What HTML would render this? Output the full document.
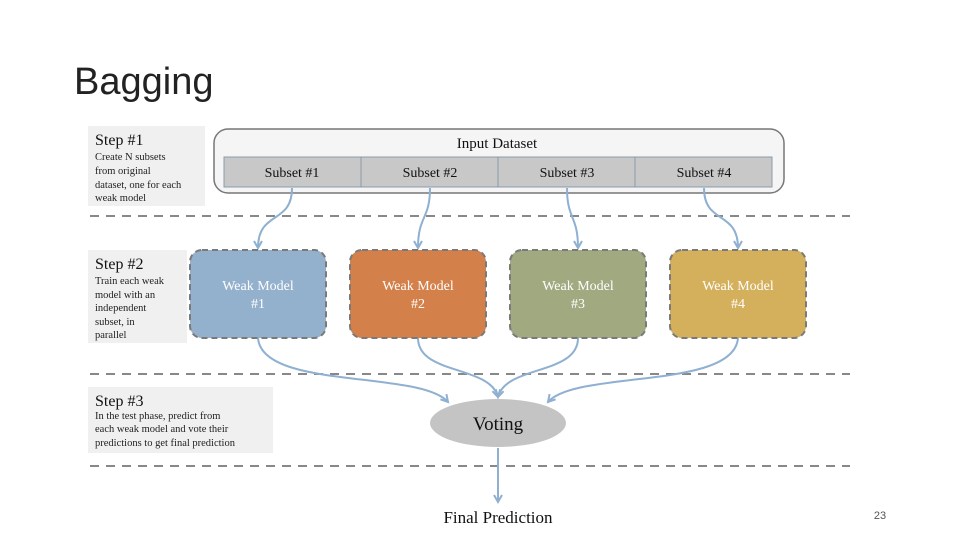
<!DOCTYPE html>
<html><head><meta charset="utf-8"><style>
html,body{margin:0;padding:0;background:#fff;}
svg{display:block;}
.s{font-family:"Liberation Serif",serif;}
</style></head><body>
<svg width="960" height="540" viewBox="0 0 960 540" xmlns="http://www.w3.org/2000/svg">
<defs>
<marker id="a" markerWidth="10" markerHeight="10" refX="8" refY="5" orient="auto" markerUnits="userSpaceOnUse">
<path d="M1,1 L8,5 L1,9" fill="none" stroke="#8fb0d0" stroke-width="2"/>
</marker>
</defs>
<text x="74" y="94" font-family="Liberation Sans,sans-serif" font-size="38" fill="#222">Bagging</text>

<!-- step boxes -->
<rect x="88" y="126" width="117" height="80" fill="#f0f0f0"/>
<text class="s" x="95" y="145" font-size="16" fill="#111">Step #1</text>
<text class="s" font-size="10.5" fill="#222"><tspan x="95" y="160">Create N subsets</tspan><tspan x="95" y="174">from original</tspan><tspan x="95" y="188">dataset, one for each</tspan><tspan x="95" y="201">weak model</tspan></text>

<rect x="88" y="250" width="99" height="93" fill="#f0f0f0"/>
<text class="s" x="95" y="269" font-size="16" fill="#111">Step #2</text>
<text class="s" font-size="10.5" fill="#222"><tspan x="95" y="284">Train each weak</tspan><tspan x="95" y="298">model with an</tspan><tspan x="95" y="311">independent</tspan><tspan x="95" y="325">subset, in</tspan><tspan x="95" y="338">parallel</tspan></text>

<rect x="88" y="387" width="185" height="66" fill="#f0f0f0"/>
<text class="s" x="95" y="406" font-size="16" fill="#111">Step #3</text>
<text class="s" font-size="10.5" fill="#222"><tspan x="95" y="419">In the test phase, predict from</tspan><tspan x="95" y="432">each weak model and vote their</tspan><tspan x="95" y="446">predictions to get final prediction</tspan></text>

<!-- input dataset -->
<rect x="214" y="129" width="570" height="64" rx="14" fill="#f5f5f5" stroke="#777" stroke-width="1.5"/>
<text class="s" x="497" y="148" font-size="15" text-anchor="middle" fill="#111">Input Dataset</text>
<rect x="224" y="157" width="548" height="30" fill="#c8c8c8" stroke="#8a9aaa" stroke-width="1"/>
<line x1="361" y1="157" x2="361" y2="187" stroke="#8a9aaa"/>
<line x1="498" y1="157" x2="498" y2="187" stroke="#8a9aaa"/>
<line x1="635" y1="157" x2="635" y2="187" stroke="#8a9aaa"/>
<g class="s" font-size="14" text-anchor="middle" fill="#111">
<text x="292" y="177">Subset #1</text><text x="430" y="177">Subset #2</text><text x="567" y="177">Subset #3</text><text x="704" y="177">Subset #4</text>
</g>

<!-- dashed separators -->
<g stroke="#888" stroke-width="2" stroke-dasharray="9,7">
<line x1="90" y1="216" x2="850" y2="216"/>
<line x1="90" y1="374" x2="850" y2="374"/>
<line x1="90" y1="466" x2="850" y2="466"/>
</g>

<!-- arrows subsets -> models -->
<g fill="none" stroke="#8fb0d0" stroke-width="2" marker-end="url(#a)">
<path d="M292,188 C292,225 258,210 258,248"/>
<path d="M430,188 C430,220 418,215 418,248"/>
<path d="M567,188 C567,220 578,215 578,248"/>
<path d="M704,188 C704,225 738,210 738,248"/>
<path d="M258,338 C262,390 420,370 448,402"/>
<path d="M418,338 C418,375 490,365 498,397"/>
<path d="M578,338 C578,375 506,365 498,397"/>
<path d="M738,338 C734,390 576,370 548,402"/>
<path d="M498,448 L498,502"/>
</g>

<!-- weak models -->
<g stroke="#7a7a7a" stroke-width="2" stroke-dasharray="6,4">
<rect x="190" y="250" width="136" height="88" rx="12" fill="#93b0cc"/>
<rect x="350" y="250" width="136" height="88" rx="12" fill="#d4804a"/>
<rect x="510" y="250" width="136" height="88" rx="12" fill="#a0a97f"/>
<rect x="670" y="250" width="136" height="88" rx="12" fill="#d4b05c"/>
</g>
<g class="s" font-size="14" text-anchor="middle" fill="#fff">
<text x="258" y="290">Weak Model</text><text x="258" y="308">#1</text>
<text x="418" y="290">Weak Model</text><text x="418" y="308">#2</text>
<text x="578" y="290">Weak Model</text><text x="578" y="308">#3</text>
<text x="738" y="290">Weak Model</text><text x="738" y="308">#4</text>
</g>

<ellipse cx="498" cy="423" rx="68" ry="24" fill="#c4c4c4"/>
<text class="s" x="498" y="430" font-size="19" text-anchor="middle" fill="#111">Voting</text>
<text class="s" x="498" y="523" font-size="17" text-anchor="middle" fill="#111">Final Prediction</text>
<text x="880" y="519" font-family="Liberation Sans,sans-serif" font-size="11" text-anchor="middle" fill="#555">23</text>
</svg>
</body></html>
